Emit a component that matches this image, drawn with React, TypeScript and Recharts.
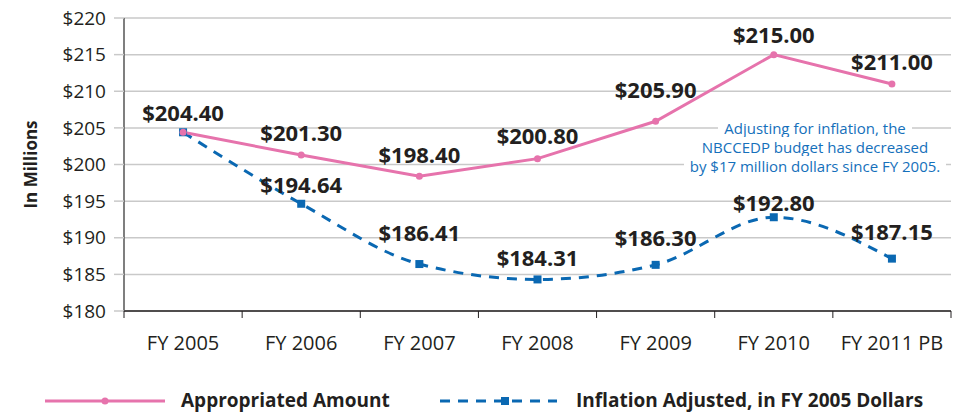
import React from "react";
import {
  CartesianGrid,
  LabelList,
  Legend,
  Line,
  LineChart,
  XAxis,
  YAxis,
} from "recharts";

const YEARS = ["FY 2005", "FY 2006", "FY 2007", "FY 2008", "FY 2009", "FY 2010", "FY 2011 PB"];
const APPROPRIATED = [204.4, 201.3, 198.4, 200.8, 205.9, 215.0, 211.0];
const INFLATION_ADJUSTED = [204.4, 194.64, 186.41, 184.31, 186.3, 192.8, 187.15];
const Y_TICKS = [180, 185, 190, 195, 200, 205, 210, 215, 220];
const NOTE_LINES = [
  "Adjusting for inflation, the",
  "NBCCEDP budget has decreased",
  "by $17 million dollars since FY 2005.",
];

// how far each value label sits above its point (px)
const PINK_LIFT = [19, 22, 21, 23, 31, 20, 22];
const BLUE_LIFT = [0, 19, 31, 21, 27, 14, 27];

const PINK = "#e673ac";
const BLUE = "#0a68b2";
const INK = "#231f20";
const FONT = "'Open Sans', 'DejaVu Sans', sans-serif";

const data = YEARS.map((year, i) => ({
  year,
  appropriated: APPROPRIATED[i],
  adjusted: INFLATION_ADJUSTED[i],
}));

const makeValueLabel = (lifts: number[], skipFirst: boolean) => (props: any) => {
  const { x, y, value, index } = props;
  if (skipFirst && index === 0) return null;
  return (
    <text
      x={x}
      y={y - lifts[index]}
      dy={8}
      textAnchor="middle"
      fill={INK}
      fontSize={22}
      fontWeight={700}
      fontFamily={FONT}
    >
      {`$${Number(value).toFixed(2)}`}
    </text>
  );
};

const SquareDot = (props: any) => {
  const { cx, cy, index } = props;
  if (cx == null || cy == null) return null;
  return <rect key={`sq-${index}`} x={cx - 4} y={cy - 4} width={8} height={8} fill={BLUE} />;
};

const YearTick = (props: any) => {
  const { x, y, payload, index } = props;
  const half = payload && payload.offset ? payload.offset : 59;
  const last = index === YEARS.length - 1;
  return (
    <g>
      <line x1={x - half} y1={y - 7} x2={x - half} y2={y} stroke={INK} strokeWidth={1} />
      {last && <line x1={x + half} y1={y - 7} x2={x + half} y2={y} stroke={INK} strokeWidth={1} />}
      <text x={x} y={y + 32} textAnchor="middle" fill={INK} fontSize={20} fontFamily={FONT}>
        {payload.value}
      </text>
    </g>
  );
};

const YLabel = (props: any) => {
  const { viewBox } = props;
  const cy = viewBox ? viewBox.y + viewBox.height / 2 : 157;
  return (
    <text
      x={22}
      y={cy}
      transform={`rotate(-90, 22, ${cy})`}
      textAnchor="middle"
      dominantBaseline="central"
      fill={INK}
      fontSize={17}
      fontWeight={700}
      fontFamily={FONT}
    >
      In Millions
    </text>
  );
};

const renderLegend = () => (
  <svg width={943} height={40}>
    <line x1={37} y1={29} x2={157} y2={29} stroke={PINK} strokeWidth={3} />
    <circle cx={97} cy={29} r={3.5} fill={PINK} />
    <text x={173} y={29} dy={6} fill={INK} fontSize={19} fontWeight={700} fontFamily={FONT}>
      Appropriated Amount
    </text>
    <line x1={432} y1={29} x2={549} y2={29} stroke={BLUE} strokeWidth={3} strokeDasharray="10 8" />
    <rect x={493} y={25} width={8} height={8} fill={BLUE} />
    <text x={568} y={29} dy={6} fill={INK} fontSize={19} fontWeight={700} fontFamily={FONT}>
      Inflation Adjusted, in FY 2005 Dollars
    </text>
  </svg>
);

export default function App() {
  return (
    <div style={{ position: "relative", width: 947, height: 404, fontFamily: FONT }}>
      <LineChart
        width={947}
        height={404}
        data={data}
        margin={{ top: 10, right: 4, left: 0, bottom: 0 }}
      >
        <CartesianGrid horizontal vertical={false} stroke="#c9c9c9" strokeWidth={1.5} />
        <XAxis
          dataKey="year"
          scale="band"
          height={61}
          axisLine={{ stroke: INK, strokeWidth: 1.5 }}
          tickLine={false}
          tickSize={7}
          tickMargin={0}
          interval={0}
          tick={<YearTick />}
        />
        <YAxis
          width={116}
          domain={[180, 220]}
          ticks={Y_TICKS}
          interval={0}
          allowDataOverflow
          tickFormatter={(v: number) => `$${v}`}
          tick={{ fill: INK, fontSize: 19, fontFamily: FONT }}
          tickSize={10}
          tickMargin={8}
          tickLine={{ stroke: "#c9c9c9", strokeWidth: 1.5 }}
          axisLine={{ stroke: "#555555", strokeWidth: 1.5 }}
          label={<YLabel />}
        />
        <Legend verticalAlign="bottom" height={40} content={renderLegend} />
        <Line
          type="monotone"
          dataKey="adjusted"
          stroke={BLUE}
          strokeWidth={3}
          strokeDasharray="10 8"
          dot={<SquareDot />}
          activeDot={false}
          isAnimationActive={false}
        >
          <LabelList dataKey="adjusted" content={makeValueLabel(BLUE_LIFT, true)} />
        </Line>
        <Line
          type="linear"
          dataKey="appropriated"
          stroke={PINK}
          strokeWidth={3}
          dot={{ r: 3.5, fill: PINK, stroke: PINK, strokeWidth: 0 }}
          activeDot={false}
          isAnimationActive={false}
        >
          <LabelList dataKey="appropriated" content={makeValueLabel(PINK_LIFT, false)} />
        </Line>
      </LineChart>
      <div
        style={{
          position: "absolute",
          left: 807 - 150,
          top: 111,
          width: 300,
          textAlign: "center",
          color: "#1570bb",
          fontSize: 15,
          lineHeight: "19px",
        }}
      >
        {NOTE_LINES.map((line) => (
          <div key={line}>
            <span style={{ background: "#fff", padding: "0 6px" }}>{line}</span>
          </div>
        ))}
      </div>
    </div>
  );
}
